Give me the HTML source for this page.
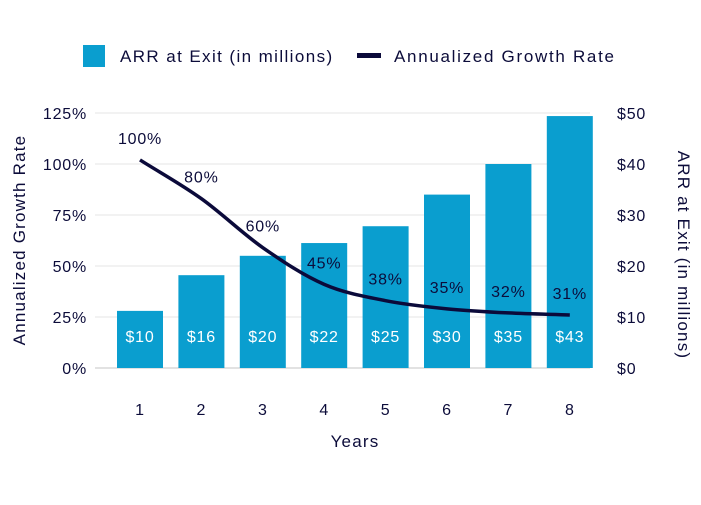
<!DOCTYPE html>
<html><head><meta charset="utf-8"><style>
body{margin:0;background:#fff;}
svg text{font-family:"Liberation Sans",sans-serif;fill:#0c0c3a;letter-spacing:0.8px;}
</style></head><body>
<svg id="c" width="701" height="500">
<g>
<rect x="83" y="45" width="22" height="22" fill="#0a9ecf"/>
<text x="120" y="62" font-size="17" style="letter-spacing:1.4px">ARR at Exit (in millions)</text>
<rect x="357" y="53" width="24" height="5" fill="#0b0a3a"/>
<text x="394" y="62" font-size="17" style="letter-spacing:1.7px">Annualized Growth Rate</text>
</g>
<text transform="translate(25,240) rotate(-90)" text-anchor="middle" font-size="17" style="letter-spacing:1.2px">Annualized Growth Rate</text>
<text transform="translate(678,255) rotate(90)" text-anchor="middle" font-size="17" style="letter-spacing:1.2px">ARR at Exit (in millions)</text>
<text x="355" y="447" text-anchor="middle" font-size="17" style="letter-spacing:1.2px">Years</text>
<g id="grid"></g><g id="bars"></g><g id="line"></g><g id="labels"></g>
</svg>
<script>
const categories=["1","2","3","4","5","6","7","8"];
const arrValues=[11.2,18.2,22,24.5,27.8,34,40,49.4];
const arrLabels=["$10","$16","$20","$22","$25","$30","$35","$43"];
const growthValues=[102,83,59,41,33,29,27,26];
const growthLabels=["100%","80%","60%","45%","38%","35%","32%","31%"];
const leftTicks=[0,25,50,75,100,125];
const rightTicks=[0,10,20,30,40,50];
const ns="http://www.w3.org/2000/svg";
function mk(t,a,p){const e=document.createElementNS(ns,t);for(const k in a)e.setAttribute(k,a[k]);p.appendChild(e);return e;}
const y0=368,yTop=113;
const yL=v=>y0-(v/125)*(y0-yTop);
const yR=v=>y0-(v/50)*(y0-yTop);
const xC=i=>140+i*61.4;
const grid=document.getElementById('grid');
leftTicks.forEach((t,i)=>{
 const g=mk('line',{x1:95,x2:590,y1:yL(t),y2:yL(t),stroke:i==0?'#d8d8d8':'#eeeeee','stroke-width':1.5},grid);
 
 
 const l=mk('text',{x:87,y:yL(t)+6,'text-anchor':'end','font-size':16},grid);l.textContent=t+'%';
 
 
});
rightTicks.forEach(t=>{
 const l=mk('text',{x:617,y:yR(t)+6,'font-size':16},grid);l.textContent='$'+t;
 
 
});
categories.forEach((c,i)=>{
 const l=mk('text',{x:xC(i),y:415,'text-anchor':'middle','font-size':16},grid);l.textContent=c;
 
 
});
const bars=document.getElementById('bars');
arrValues.forEach((v,i)=>{
 const r=mk('rect',{x:xC(i)-23,y:yR(v),width:46,height:y0-yR(v),fill:'#0a9ecf'},bars);
 
 
 const t=mk('text',{x:xC(i),y:342,'text-anchor':'middle','font-size':16,style:'fill:#fff'},bars);t.textContent=arrLabels[i];
 
 
});
const pts=growthValues.map((v,i)=>[xC(i),yL(v)]);
const n=pts.length,d=[],m=[];
for(let i=0;i<n-1;i++)d.push((pts[i+1][1]-pts[i][1])/(pts[i+1][0]-pts[i][0]));
m[0]=d[0];m[n-1]=d[n-2];
for(let i=1;i<n-1;i++)m[i]=d[i-1]*d[i]<=0?0:(d[i-1]+d[i])/2;
let p='M'+pts[0][0]+','+pts[0][1];
for(let i=0;i<n-1;i++){const h=(pts[i+1][0]-pts[i][0])/3;
 p+=` C${pts[i][0]+h},${pts[i][1]+m[i]*h} ${pts[i+1][0]-h},${pts[i+1][1]-m[i+1]*h} ${pts[i+1][0]},${pts[i+1][1]}`;}
const ln=mk('path',{d:p,fill:'none',stroke:'#0b0a3a','stroke-width':3.5},document.getElementById('line'));


const lab=document.getElementById('labels');
pts.forEach((q,i)=>{
 const t=mk('text',{x:q[0],y:q[1]-16,'text-anchor':'middle','font-size':16},lab);t.textContent=growthLabels[i];
 
 
});
</script>
</body></html>
